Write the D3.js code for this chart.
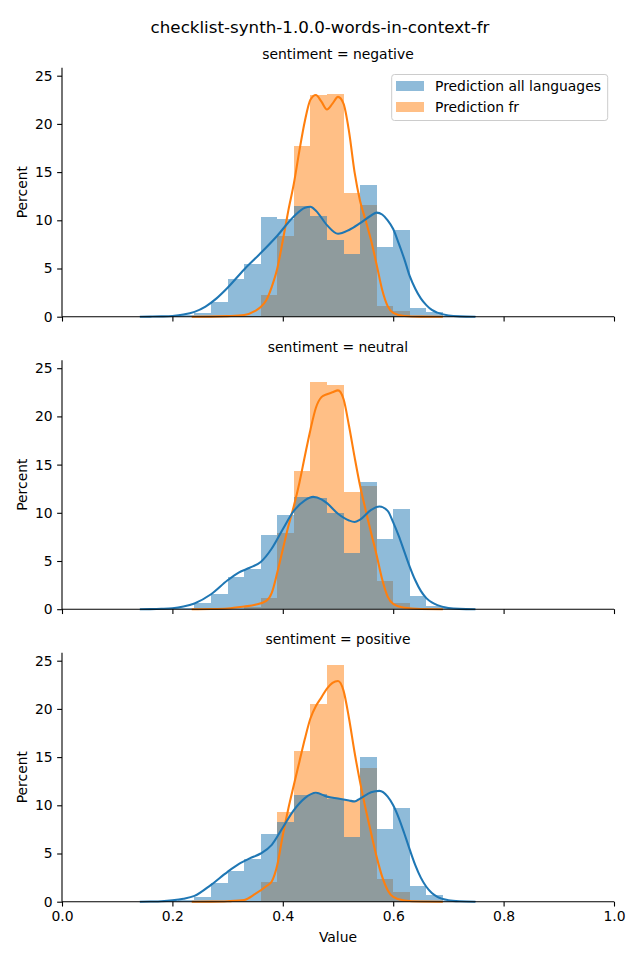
<!DOCTYPE html>
<html>
<head>
<meta charset="utf-8">
<script src="https://cdn.jsdelivr.net/npm/d3@7"></script>
<style>
  html, body { margin: 0; padding: 0; background: #fff; }
  svg { display: block; font-family: "DejaVu Sans", sans-serif; }
</style>
</head>
<body>
<svg id="chart" width="640" height="960"></svg>
<script>
// ---------- data ----------
const figTitle = "checklist-synth-1.0.0-words-in-context-fr";
const facets = ["negative", "neutral", "positive"];
const seriesNames = ["Prediction all languages", "Prediction fr"];
const binEdges = [0.15, 0.18, 0.21, 0.24, 0.27, 0.30, 0.33, 0.36, 0.39, 0.42, 0.45,
                  0.48, 0.51, 0.54, 0.57, 0.60, 0.63, 0.66, 0.69, 0.72, 0.75];
const xTicks = [0.0, 0.2, 0.4, 0.6, 0.8, 1.0];
const yTicks = [0, 5, 10, 15, 20, 25];

// histogram percentages per bin (20 bins)
const allNegative = [0.05, 0.08, 0.15, 0.35, 1.52, 3.9, 5.45, 10.3, 10.1, 11.5, 10.4, 8.0, 6.5, 13.7, 7.2, 8.97, 0.86, 0.45, 0.1, 0.05];
const frNegative  = [0, 0, 0, 0, 0, 0.05, 0.1, 2.24, 8.35, 17.7, 23.0, 23.1, 12.8, 11.55, 1.1, 0.6, 0.05, 0, 0, 0];
const allNeutral  = [0.05, 0.08, 0.15, 0.62, 1.62, 3.38, 4.14, 7.66, 9.8, 11.66, 11.55, 10.0, 5.86, 13.2, 7.3, 10.4, 1.38, 0.38, 0.1, 0.05];
const frNeutral   = [0, 0, 0, 0, 0, 0.05, 0.2, 1.2, 7.93, 14.35, 23.55, 23.24, 12.17, 12.8, 2.97, 0.62, 0.05, 0, 0, 0];
const allPositive = [0.05, 0.1, 0.15, 0.45, 1.93, 3.17, 4.41, 7.0, 8.24, 11.03, 11.2, 10.7, 6.7, 14.97, 7.5, 9.69, 1.66, 0.69, 0.1, 0.05];
const frPositive  = [0, 0, 0, 0, 0, 0.05, 0.1, 2.03, 9.28, 15.6, 20.46, 24.6, 10.6, 13.83, 2.34, 1.0, 0.05, 0, 0, 0];

// KDE curves: [value, percent]
const kdeAllNegative = [[0.141,0],[0.16,0.01],[0.18,0.03],[0.20,0.08],[0.22,0.22],[0.24,0.5],[0.26,1.05],[0.28,1.9],[0.30,3.0],[0.33,4.9],[0.36,6.6],[0.39,8.4],[0.42,10.4],[0.44,11.3],[0.45,11.4],[0.46,11.0],[0.48,9.5],[0.50,8.6],[0.52,9.0],[0.54,9.7],[0.56,10.5],[0.57,10.8],[0.58,10.6],[0.59,10.0],[0.60,9.1],[0.61,7.6],[0.62,6.0],[0.63,4.2],[0.64,2.9],[0.65,1.9],[0.66,1.2],[0.67,0.7],[0.68,0.42],[0.70,0.13],[0.72,0.03],[0.749,0]];
const kdeFrNegative = [[0.235,0],[0.27,0.01],[0.30,0.06],[0.33,0.17],[0.35,0.6],[0.36,1.0],[0.37,1.7],[0.38,3.1],[0.39,5.0],[0.40,7.9],[0.41,11.0],[0.42,13.8],[0.43,17.2],[0.44,20.3],[0.45,22.5],[0.46,23.0],[0.47,22.3],[0.48,21.5],[0.49,22.1],[0.50,22.8],[0.51,22.1],[0.52,19.2],[0.53,15.0],[0.54,12.0],[0.55,10.0],[0.56,7.9],[0.57,5.4],[0.58,2.8],[0.59,1.1],[0.60,0.4],[0.62,0.07],[0.65,0.01],[0.69,0]];
const kdeAllNeutral = [[0.141,0],[0.16,0.01],[0.18,0.04],[0.20,0.1],[0.22,0.28],[0.24,0.6],[0.27,1.55],[0.30,3.0],[0.32,3.8],[0.34,4.3],[0.36,4.9],[0.38,6.3],[0.40,8.3],[0.42,10.2],[0.44,11.3],[0.455,11.65],[0.47,11.4],[0.48,11.0],[0.50,9.9],[0.52,9.2],[0.53,9.05],[0.54,9.3],[0.56,10.3],[0.575,10.65],[0.59,10.2],[0.60,9.0],[0.61,7.6],[0.62,6.0],[0.63,4.4],[0.64,3.0],[0.65,1.9],[0.66,1.15],[0.67,0.7],[0.68,0.42],[0.70,0.13],[0.72,0.03],[0.749,0]];
const kdeFrNeutral = [[0.235,0],[0.27,0.02],[0.30,0.08],[0.33,0.28],[0.35,0.45],[0.37,0.86],[0.38,1.7],[0.39,3.8],[0.40,6.2],[0.41,8.6],[0.42,10.7],[0.43,13.1],[0.44,15.9],[0.45,18.6],[0.46,20.9],[0.47,22.0],[0.48,22.3],[0.49,22.5],[0.50,22.7],[0.51,21.8],[0.52,19.0],[0.53,15.8],[0.54,12.8],[0.55,10.3],[0.56,7.9],[0.57,5.6],[0.58,3.1],[0.59,1.3],[0.60,0.55],[0.62,0.15],[0.65,0.02],[0.69,0]];
const kdeAllPositive = [[0.141,0],[0.16,0.02],[0.18,0.05],[0.20,0.14],[0.22,0.3],[0.24,0.6],[0.27,1.75],[0.30,3.1],[0.32,3.9],[0.34,4.5],[0.36,5.0],[0.38,5.9],[0.40,7.7],[0.42,9.5],[0.44,10.75],[0.46,11.3],[0.48,10.9],[0.50,10.7],[0.52,10.5],[0.53,10.4],[0.54,10.7],[0.56,11.35],[0.575,11.5],[0.59,10.9],[0.60,10.0],[0.61,8.7],[0.62,7.1],[0.63,5.4],[0.64,3.8],[0.65,2.5],[0.66,1.55],[0.67,0.9],[0.68,0.5],[0.70,0.15],[0.72,0.04],[0.749,0]];
const kdeFrPositive = [[0.235,0],[0.27,0.01],[0.30,0.05],[0.33,0.17],[0.35,0.8],[0.37,1.6],[0.38,2.1],[0.39,3.8],[0.40,6.9],[0.41,9.65],[0.42,12.1],[0.43,14.5],[0.44,16.9],[0.45,19.0],[0.46,20.3],[0.47,21.2],[0.48,22.1],[0.49,22.7],[0.50,22.9],[0.51,21.9],[0.52,19.0],[0.53,15.5],[0.54,12.4],[0.55,9.65],[0.56,7.1],[0.57,4.65],[0.58,2.6],[0.59,1.2],[0.60,0.5],[0.62,0.12],[0.65,0.02],[0.69,0]];

const histAll = [allNegative, allNeutral, allPositive];
const histFr = [frNegative, frNeutral, frPositive];
const kdeAll = [kdeAllNegative, kdeAllNeutral, kdeAllPositive];
const kdeFr = [kdeFrNegative, kdeFrNeutral, kdeFrPositive];

// ---------- layout ----------
const colors = ["#1f77b4", "#ff7f0e"];
const svg = d3.select("#chart");
const left = 62, right = 614;
const panelH = 249, firstBottom = 316.7, step = 292.5;
const yMax = 25.83;

const x = d3.scaleLinear().domain([0, 1]).range([left, right]);

svg.append("text")
  .attr("x", 320).attr("y", 32.5)
  .attr("text-anchor", "middle")
  .attr("font-size", 16.7)
  .attr("fill", "#000")
  .text(figTitle);

facets.forEach((facet, i) => {
  const bottom = firstBottom + i * step;
  const top = bottom - panelH;
  const y = d3.scaleLinear().domain([0, yMax]).range([bottom, top]);
  const g = svg.append("g");

  // facet title
  g.append("text")
    .attr("x", (left + right) / 2).attr("y", top - 8.5)
    .attr("text-anchor", "middle")
    .attr("font-size", 13.9)
    .text("sentiment = " + facet);

  const bins = d3.range(binEdges.length - 1);
  // orange (fr) bars first, then blue on top
  [[histFr[i], colors[1]], [histAll[i], colors[0]]].forEach(([vals, col]) => {
    g.append("g").selectAll("rect").data(bins).join("rect")
      .attr("x", k => x(binEdges[k]))
      .attr("width", k => x(binEdges[k + 1]) - x(binEdges[k]))
      .attr("y", k => y(vals[k]))
      .attr("height", k => y(0) - y(vals[k]))
      .attr("fill", col)
      .attr("fill-opacity", 0.5)
      .attr("shape-rendering", "crispEdges");
  });

  const line = d3.line()
    .x(d => x(d[0])).y(d => y(d[1]))
    .curve(d3.curveMonotoneX);
  g.append("path").datum(kdeFr[i]).attr("d", line)
    .attr("fill", "none").attr("stroke", colors[1]).attr("stroke-width", 2.08)
    .attr("stroke-linejoin", "round").attr("stroke-linecap", "butt");
  g.append("path").datum(kdeAll[i]).attr("d", line)
    .attr("fill", "none").attr("stroke", colors[0]).attr("stroke-width", 2.08)
    .attr("stroke-linejoin", "round").attr("stroke-linecap", "butt");

  // axes
  const xAxis = d3.axisBottom(x).tickValues(xTicks).tickSize(4.86).tickPadding(4.5)
    .tickFormat(i === facets.length - 1 ? d3.format(".1f") : () => "");
  const gx = g.append("g").attr("transform", `translate(0,${bottom})`).call(xAxis);
  const yAxis = d3.axisLeft(y).tickValues(yTicks).tickSize(4.86).tickPadding(4.5);
  const gy = g.append("g").attr("transform", `translate(${left},0)`).call(yAxis);
  [gx, gy].forEach(a => {
    a.select(".domain").remove();
    a.selectAll(".tick line").attr("stroke", "#000").attr("stroke-width", 1.1);
    a.selectAll(".tick text").attr("font-size", 13.9).attr("fill", "#000")
      .attr("font-family", "DejaVu Sans");
  });
  // spines
  g.append("line").attr("x1", left).attr("x2", right).attr("y1", bottom).attr("y2", bottom)
    .attr("stroke", "#000").attr("stroke-width", 1.1);
  g.append("line").attr("x1", left).attr("x2", left).attr("y1", top).attr("y2", bottom)
    .attr("stroke", "#000").attr("stroke-width", 1.1);

  // y label
  g.append("text")
    .attr("transform", `translate(27,${(top + bottom) / 2}) rotate(-90)`)
    .attr("text-anchor", "middle")
    .attr("font-size", 13.9)
    .text("Percent");

  // legend on first panel
  if (i === 0) {
    const lg = g.append("g");
    lg.append("rect")
      .attr("x", 391.7).attr("y", 74.5).attr("width", 216).attr("height", 46)
      .attr("rx", 2.8).attr("fill", "#fff").attr("fill-opacity", 0.8)
      .attr("stroke", "#cccccc").attr("stroke-width", 1);
    seriesNames.forEach((name, j) => {
      const cy = 86 + j * 21;
      lg.append("rect")
        .attr("x", 396).attr("y", cy - 5).attr("width", 28).attr("height", 10)
        .attr("fill", colors[j]).attr("fill-opacity", 0.5);
      lg.append("text")
        .attr("x", 435).attr("y", cy + 5)
        .attr("font-size", 13.9)
        .text(name);
    });
  }
});

svg.append("text")
  .attr("x", (left + right) / 2).attr("y", 942)
  .attr("text-anchor", "middle")
  .attr("font-size", 13.9)
  .text("Value");
</script>
</body>
</html>
